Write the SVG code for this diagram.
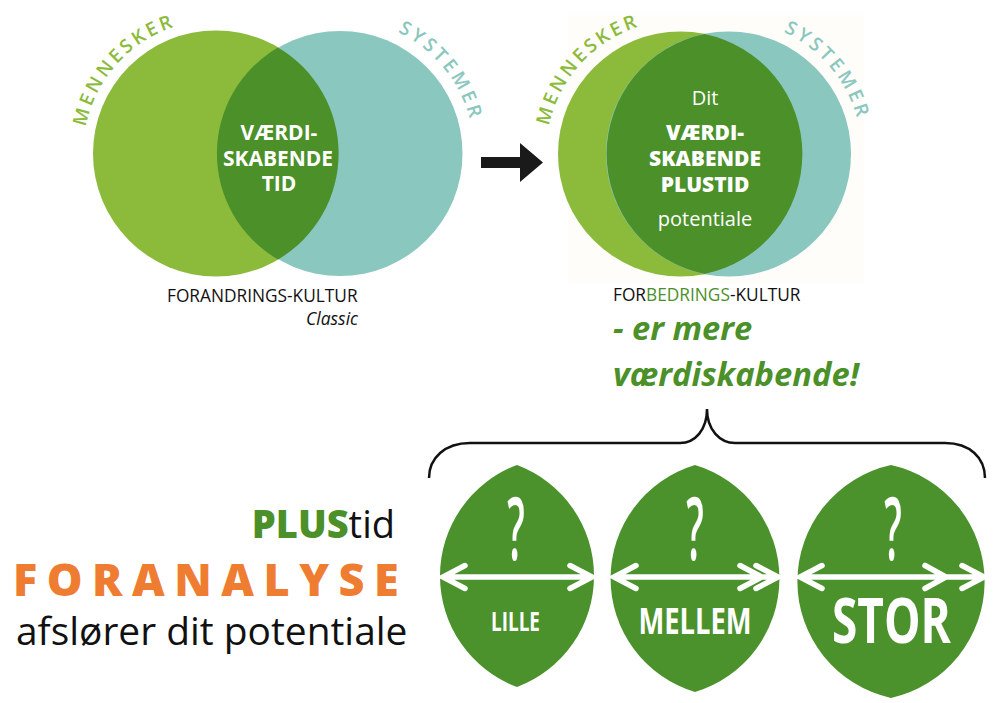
<svg xmlns="http://www.w3.org/2000/svg" width="1000" height="703" viewBox="0 0 1000 703">
<style>
text{font-family:"Open Sans","Liberation Sans",sans-serif}
.m{text-anchor:middle}
.w{fill:#fff}
.hd{font-size:21px;font-weight:700;fill:#fff;text-anchor:middle}
.hx{font-size:21px;font-weight:800;fill:#fff;text-anchor:middle}
.arcg{font-size:19px;font-weight:600;fill:#8cbb3b;letter-spacing:3.2px;text-anchor:middle}
.arct{font-size:19px;font-weight:600;fill:#8ac7be;letter-spacing:3.2px;text-anchor:middle}
.sm{font-size:17.300px;fill:#111}
.gi{font-size:32.700px;font-weight:700;font-style:italic;fill:#4b9029}
.leaf{fill:#4b922c}
.ar{fill:none;stroke:#fff;stroke-width:5.500;stroke-linecap:round;stroke-linejoin:miter}
.q{font-size:86px;font-weight:600;fill:#fff;text-anchor:middle}
.sz{fill:#fff;font-weight:700;text-anchor:middle}
</style>
<defs>
<path id="pa" d="M84.3 171.5A133 133 0 0 1 220.6 20.1"/>
<path id="pb" d="M340 19A134 134 0 0 1 472 176.3"/>
<path id="pc" d="M546.7 168A134 134 0 0 1 689.3 20.3"/>
<path id="pd" d="M724.5 20A134 134 0 0 1 860.5 173.8"/>
</defs>
<rect x="568" y="14" width="296" height="270" fill="#fefdfa"/>
<g id="venn-classic">
<circle cx="216" cy="153.5" r="123" fill="#8cbb3b"/>
<circle cx="340" cy="153.5" r="122.5" fill="#8ac7be"/>
<path d="M278 47.5A122.5 122.5 0 0 0 278 259.5A123 123 0 0 0 278 47.5Z" fill="#4b9029"/>
<text class="arcg"><textPath href="#pa" startOffset="50%">MENNESKER</textPath></text>
<text class="arct"><textPath href="#pb" startOffset="51%">SYSTEMER</textPath></text>
<text class="hd" x="279" y="140">VÆRDI-</text>
<text class="hd" x="278" y="166">SKABENDE</text>
<text class="hd" x="279" y="191">TID</text>
<text class="sm" x="167" y="302">FORANDRINGS-KULTUR</text>
<text x="358" y="325" font-size="17.500" font-style="italic" fill="#111" text-anchor="end">Classic</text>
</g>
<g id="venn-plus">
<circle cx="680.5" cy="154" r="122.5" fill="#8cbb3b"/>
<circle cx="728.5" cy="154" r="122.5" fill="#8ac7be"/>
<path d="M704.5 34A122.5 122.5 0 0 0 704.5 274A122.5 122.5 0 0 0 704.5 34Z" fill="#4b9029"/>
<text class="arcg"><textPath href="#pc" startOffset="48.500%">MENNESKER</textPath></text>
<text class="arct"><textPath href="#pd" startOffset="51.500%">SYSTEMER</textPath></text>
<text class="w m" x="705" y="105" font-size="20">Dit</text>
<text class="hx" x="705" y="140">VÆRDI-</text>
<text class="hx" x="705" y="166">SKABENDE</text>
<text class="hx" x="705" y="192">PLUSTID</text>
<text class="w m" x="705" y="226" font-size="20">potentiale</text>
<text class="sm" x="613" y="301">FOR<tspan fill="#4b9029">BEDRINGS</tspan>-KULTUR</text>
<text class="gi" x="613" y="340">- er mere</text>
<text class="gi" x="613" y="386">værdiskabende!</text>
</g>
<g id="connectors">
<path d="M481 157H520V143L543 162.500L520 182V168H481Z" fill="#1a1a1a"/>
<path d="M429 478C429 458 445 443 470 443H680C695 443 707 430 707 409C707 430 720 443 735 443H945C970 443 985 458 985 478" fill="none" stroke="#111" stroke-width="2.500"/>
</g>
<g id="leaf-lille">
<path class="leaf" d="M517 465A118.500 118.500 0 0 1 517 687A118.500 118.500 0 0 1 517 465Z"/>
<text class="q" transform="translate(516 560) scale(.45 1)">?</text>
<path class="ar" d="M444 577H591M465 565.500L443 577L465 588.500M570 565.500L592 577L570 588.500"/>
<text class="sz" font-size="27" font-weight="600" transform="translate(515.500 631) scale(.7 1)">LILLE</text>
</g>
<g id="leaf-mellem">
<path class="leaf" d="M695 465A118.500 118.500 0 0 1 695 692A118.500 118.500 0 0 1 695 465Z"/>
<text class="q" transform="translate(695 560) scale(.45 1)">?</text>
<path class="ar" d="M614 577H775M636 565.500L614 577L636 588.500M740 565.500L762 577L740 588.500M756 565.500L778 577L756 588.500"/>
<text class="sz" font-size="36" transform="translate(695 634) scale(.76 1)">MELLEM</text>
</g>
<g id="leaf-stor">
<path class="leaf" d="M891 465A119.300 119.300 0 0 1 891 698A119.300 119.300 0 0 1 891 465Z"/>
<text class="q" transform="translate(893 560) scale(.45 1)">?</text>
<path class="ar" d="M800 577H983M822 565.500L800 577L822 588.500M925 565.500L946 577L925 588.500M962 565.500L984 577L962 588.500"/>
<text class="sz" font-size="63" transform="translate(891.500 643) scale(.73 1)">STOR</text>
</g>
<g id="foranalyse">
<text x="395" y="538" font-size="38" text-anchor="end" fill="#111"><tspan font-weight="800" fill="#4b9029">PLUS</tspan>tid</text>
<text x="13" y="596" font-size="45" font-weight="800" fill="#ef7d31" letter-spacing="9.500">FORANALYSE</text>
<text x="16" y="645" font-size="38.900" fill="#111">afslører dit potentiale</text>
</g>
</svg>
